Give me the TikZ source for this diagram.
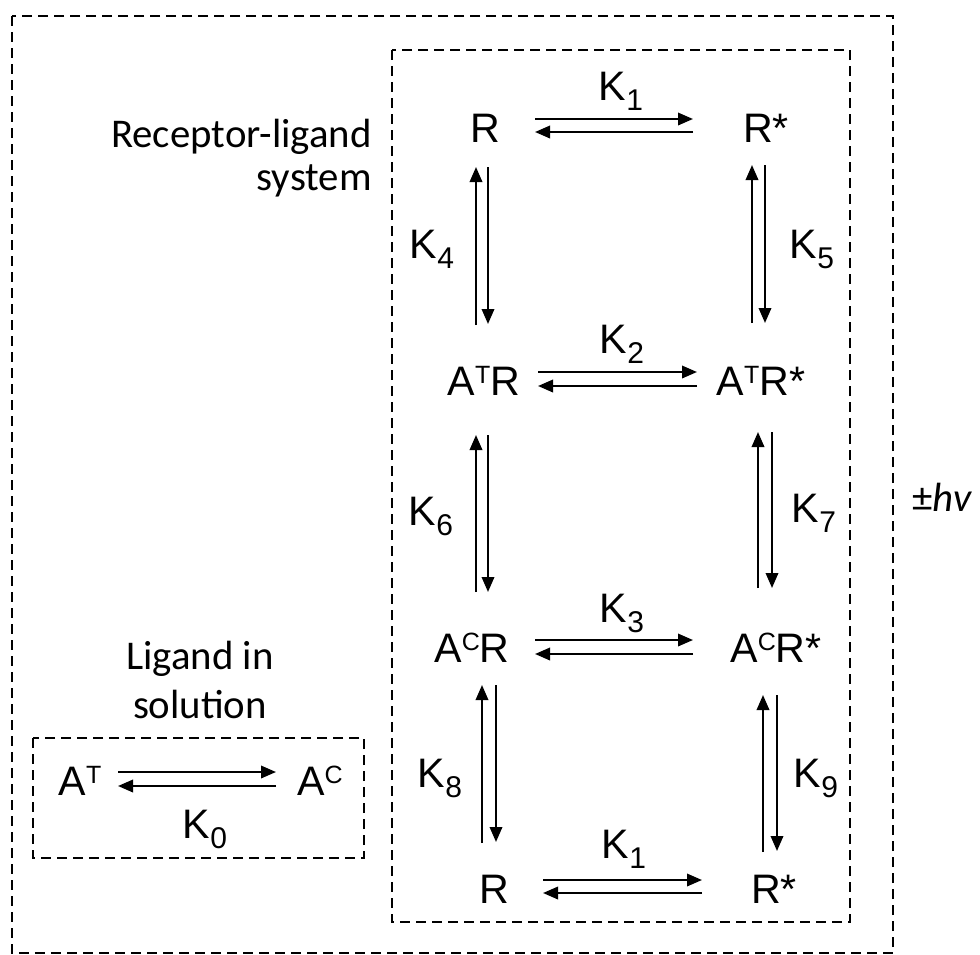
\documentclass[tikz,border=0pt]{standalone}
\usepackage{fontspec}
\setmainfont{Liberation Sans}
\newfontfamily\calib{Carlito}
\usetikzlibrary{arrows.meta,calc}
\newcommand\sbx[1]{\raisebox{-5pt}{\fontsize{15}{15}\selectfont #1}}
\newcommand\spx[1]{\raisebox{5.6pt}{\fontsize{12.5}{12.5}\selectfont #1}}
\begin{document}
\begin{tikzpicture}[x=0.5pt,y=-0.5pt,
  sp/.style={font=\fontsize{20.6}{24}\selectfont, inner sep=0pt, anchor=base},
  kl/.style={font=\fontsize{20.6}{24}\selectfont, inner sep=0pt, anchor=base},
  tx/.style={inner sep=0pt},
  rx/.style={-{Triangle[length=7.5pt,width=6.2pt]}, line width=1.1pt},
  box/.style={draw, line width=1.1pt, dash pattern=on 5pt off 3pt}]
\useasboundingbox (0,0) rectangle (980,954);
% boxes
\draw[box] (12,16) rectangle (893,953);
\draw[box] (392,50) rectangle (850,922);
\draw[box] (33,738) rectangle (364,858);
% species
\node[sp] (R)    at (485,142) {R};
\node[sp] (Rs)   at (766,142) {R*};
\node[sp] (ATR)  at (484,395) {A\spx{T}R};
\node[sp] (ATRs) at (761,395) {A\spx{T}R*};
\node[sp] (ACR)  at (472,662) {A\spx{C}R};
\node[sp] (ACRs) at (776,662) {A\spx{C}R*};
\node[sp] (R2)   at (494,903) {R};
\node[sp] (Rs2)  at (774,903) {R*};
\node[sp] (AT)   at (80,795)  {A\spx{T}};
\node[sp] (AC)   at (320,795) {A\spx{C}};
% constants
\node[kl] (k1)  at (621,100) {K\sbx{1}};
\node[kl] (k2)  at (622,353) {K\sbx{2}};
\node[kl] (k3)  at (622,622) {K\sbx{3}};
\node[kl] (k1b) at (624,858) {K\sbx{1}};
\node[kl] (k4)  at (432,258) {K\sbx{4}};
\node[kl] (k5)  at (812,258) {K\sbx{5}};
\node[kl] (k6)  at (431,525) {K\sbx{6}};
\node[kl] (k7)  at (814,522) {K\sbx{7}};
\node[kl] (k8)  at (440,787) {K\sbx{8}};
\node[kl] (k9)  at (816,787) {K\sbx{9}};
\node[kl] (k0)  at (205,838) {K\sbx{0}};
% labels
\node[tx, anchor=base east, align=right, font=\calib\fontsize{20.4}{21.5}\selectfont] (lrec) at (372,190) {Receptor-ligand\\system};
\node[tx, anchor=base, align=center, font=\calib\fontsize{20.4}{24.5}\selectfont] (lsol) at (200,718) {Ligand in\\solution};
\node[tx, anchor=base west, font=\calib\fontsize{20.4}{24}\selectfont] (lhv) at (912,511) {±\textit{hv}};
% horizontal equilibria
\draw[rx] ($(R.base)+(50,-23)$) -- ($(Rs.base)+(-73,-23)$);
\draw[rx] ($(Rs.base)+(-73,-10)$) -- ($(R.base)+(50,-10)$);
\draw[rx] ($(ATR.base)+(54,-23)$) -- ($(ATRs.base)+(-64,-23)$);
\draw[rx] ($(ATRs.base)+(-64,-9)$) -- ($(ATR.base)+(54,-9)$);
\draw[rx] ($(ACR.base)+(63,-22)$) -- ($(ACRs.base)+(-83,-22)$);
\draw[rx] ($(ACRs.base)+(-83,-8)$) -- ($(ACR.base)+(63,-8)$);
\draw[rx] ($(R2.base)+(49,-23)$) -- ($(Rs2.base)+(-72,-23)$);
\draw[rx] ($(Rs2.base)+(-72,-10)$) -- ($(R2.base)+(49,-10)$);
\draw[rx] ($(AT.base)+(38,-23)$) -- ($(AC.base)+(-44,-23)$);
\draw[rx] ($(AC.base)+(-44,-9)$) -- ($(AT.base)+(38,-9)$);
% vertical equilibria
\draw[rx] ($(ATR.base)+(-8,-70)$) -- ($(R.base)+(-9,25)$);
\draw[rx] ($(R.base)+(3,25)$) -- ($(ATR.base)+(4,-71)$);
\draw[rx] ($(ATRs.base)+(-9,-72)$) -- ($(Rs.base)+(-14,23)$);
\draw[rx] ($(Rs.base)+(-1,23)$) -- ($(ATRs.base)+(4,-72)$);
\draw[rx] ($(ACR.base)+(4,-70)$) -- ($(ATR.base)+(-8,40)$);
\draw[rx] ($(ATR.base)+(4,40)$) -- ($(ACR.base)+(16,-70)$);
\draw[rx] ($(ACRs.base)+(-18,-74)$) -- ($(ATRs.base)+(-3,37)$);
\draw[rx] ($(ATRs.base)+(11,37)$) -- ($(ACRs.base)+(-4,-74)$);
\draw[rx] ($(R2.base)+(-12,-60)$) -- ($(ACR.base)+(10,23)$);
\draw[rx] ($(ACR.base)+(24,23)$) -- ($(R2.base)+(2,-61)$);
\draw[rx] ($(Rs2.base)+(-11,-51)$) -- ($(ACRs.base)+(-13,33)$);
\draw[rx] ($(ACRs.base)+(1,33)$) -- ($(Rs2.base)+(3,-52)$);
\end{tikzpicture}
\end{document}
